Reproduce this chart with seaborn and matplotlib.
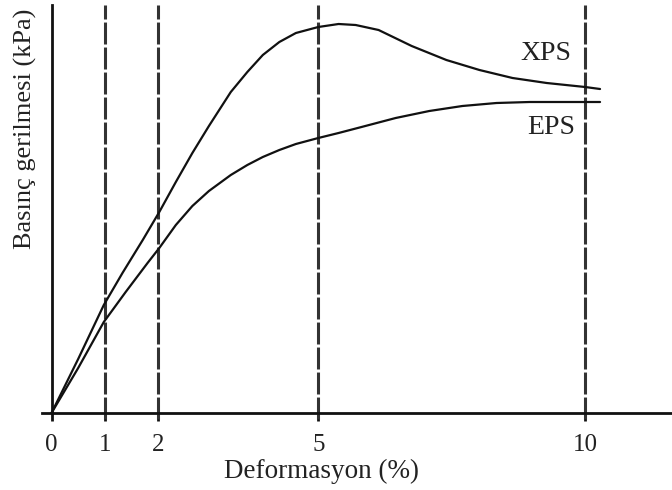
import matplotlib
matplotlib.use("Agg")
import matplotlib.pyplot as plt
import seaborn as sns
import pandas as pd

# Stress-strain curves (deformation in %, stress in arbitrary kPa units)
xps_strain = [0, 0.50, 0.98, 1.33, 1.71, 2.02, 2.33, 2.64, 2.95, 3.36, 3.67, 3.96,
              4.27, 4.58, 5.00, 5.38, 5.70, 6.13, 6.75, 7.40, 8.02, 8.64, 9.28,
              10.0, 10.28]
xps_stress = [0, 54, 108, 140, 173, 201, 231, 260, 287, 321, 341, 358,
              371, 380, 386, 389, 388, 383, 367, 353, 343, 335, 330,
              326, 324]

eps_strain = [0, 0.50, 0.98, 1.39, 1.80, 2.02, 2.33, 2.64, 2.95, 3.36, 3.67, 3.96,
              4.27, 4.58, 5.00, 5.38, 5.81, 6.45, 7.08, 7.70, 8.34, 8.96,
              10.0, 10.28]
eps_stress = [0, 45, 91, 121, 150, 165, 188, 207, 222, 238, 248, 256,
              263, 269, 275, 280, 286, 295, 302, 307, 310, 311,
              311, 311]

tick_values = [0, 1, 2, 5, 10]
tick_labels = ["0", "1", "2", "5", "10"]
ref_strains = [1, 2, 5, 10]

series_names = ["XPS", "EPS"]
label_pos = {"XPS": (9.27, 360), "EPS": (9.36, 285)}

df = pd.concat([
    pd.DataFrame({"Deformasyon": xps_strain, "Gerilme": xps_stress, "Malzeme": "XPS"}),
    pd.DataFrame({"Deformasyon": eps_strain, "Gerilme": eps_stress, "Malzeme": "EPS"}),
], ignore_index=True)

sns.set_theme(style="white")
plt.rcParams["font.family"] = ["Liberation Serif", "DejaVu Serif"]
plt.rcParams["lines.scale_dashes"] = False

fig = plt.figure(figsize=(6.72, 4.90), dpi=100)
ax = fig.add_axes([42 / 672, 77 / 490, 630 / 672, 408 / 490])

# Reference strain levels as dashed verticals, running just below the axis
for xv in ref_strains:
    ax.plot([xv, xv], [-6, 408], color="#333333", lw=2.2,
            dashes=(15.8, 2.2), clip_on=False, zorder=1)

sns.lineplot(data=df, x="Deformasyon", y="Gerilme", hue="Malzeme",
             palette={"XPS": "#111111", "EPS": "#111111"}, linewidth=1.6,
             legend=False, ax=ax, sort=False, estimator=None, zorder=3)

for name in series_names:
    x, y = label_pos[name]
    ax.text(x, y, name, ha="center", va="center", fontsize=20, color="#222222")

px_per_unit = 53.36
ax.set_xlim((42 - 51.5) / px_per_unit, (672 - 51.5) / px_per_unit)
ax.set_ylim(0, 408)

ax.spines["left"].set_position(("data", 0))
ax.spines["right"].set_visible(False)
ax.spines["top"].set_visible(False)
for side in ("left", "bottom"):
    ax.spines[side].set_linewidth(2.0)
    ax.spines[side].set_color("#111111")

ax.set_yticks([])
ax.set_xticks(tick_values)
ax.set_xticklabels(tick_labels, fontsize=18, color="#222222")
ax.tick_params(axis="x", direction="out", length=6, width=2, color="#111111",
               pad=9, bottom=True)

ax.set_xlabel("Deformasyon (%)", fontsize=19.5, color="#222222")
ax.xaxis.set_label_coords((321 - 42) / 630, -(459 - 413) / 408)
ax.set_ylabel("Basınç gerilmesi (kPa)", fontsize=19, color="#222222")
ax.yaxis.label.set_verticalalignment("center")
ax.yaxis.set_label_coords((25 - 42) / 630, (413 - 129) / 408)

fig.savefig("out.png", dpi=100)
